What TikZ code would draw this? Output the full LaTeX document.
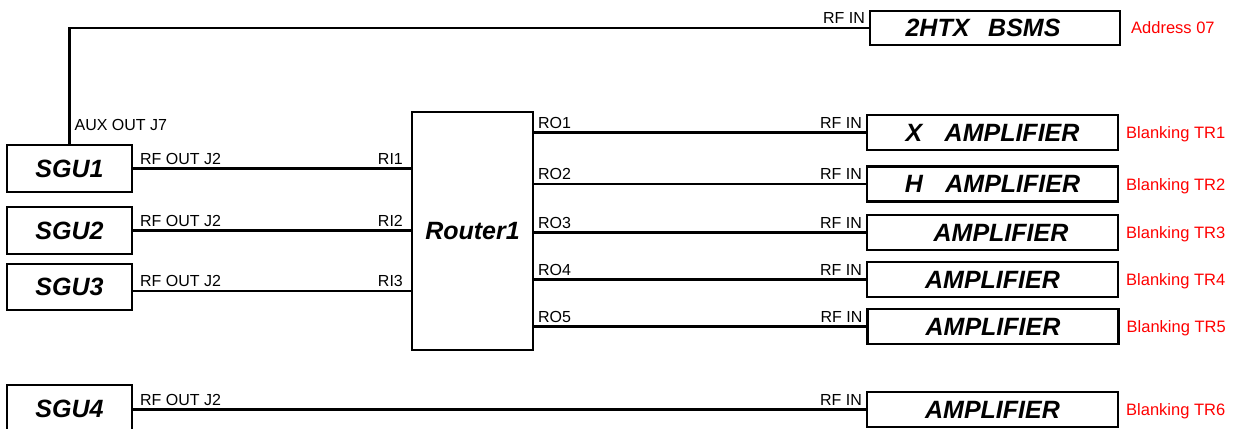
\documentclass[tikz,border=0pt]{standalone}
\usepackage{fontspec}
\setmainfont{Liberation Sans}
\tikzstyle{every picture}=[line join=miter]
\tikzstyle{unit}=[draw, line width=2.8pt, outer sep=0pt, inner sep=0pt, font=\fontsize{25}{28}\selectfont\bfseries\itshape]
\tikzstyle{sgu}=[unit, minimum width=125pt, minimum height=47pt]
\tikzstyle{amp}=[unit, minimum width=251pt, minimum height=35pt]
\tikzstyle{port}=[font=\fontsize{16}{18}\selectfont, inner xsep=4pt, inner ysep=3pt]
\tikzstyle{note}=[font=\fontsize{16.5}{18}\selectfont, text=red, inner sep=0pt, text height=12pt, text depth=0pt, anchor=west]
\tikzstyle{wire}=[line width=2.3pt]

\begin{document}
\begin{tikzpicture}[x=1pt,y=-1pt]
    \clip (0,0) rectangle (1238,428);
    \node[sgu] (sgu1) at (69.5,168.5) {SGU1};
    \node[sgu] (sgu2) at (69.5,230.5) {SGU2};
    \node[sgu, minimum height=46pt] (sgu3) at (69.5,287) {SGU3};
    \node[sgu] (sgu4) at (69.5,408.5) {SGU4};
    \node[unit, minimum width=121pt, minimum height=238pt] (router1) at (472.5,231) {Router1};
    \node[unit, minimum width=250pt, minimum height=34pt] (bsms) at (995,28) {2HTX\hspace{0.75em}BSMS\hspace*{24pt}};
    \node[amp] (amp1) at (992.5,132.5) {X\hspace{0.9em}AMPLIFIER};
    \node[amp] (amp2) at (992.5,184) {H\hspace{0.9em}AMPLIFIER};
    \node[amp] (amp3) at (992.5,232.5) {\hspace*{17pt}AMPLIFIER};
    \node[amp] (amp4) at (992.5,279.5) {AMPLIFIER};
    \node[amp] (amp5) at (993,326.5) {AMPLIFIER};
    \node[amp] (amp6) at (992.5,409.5) {AMPLIFIER};
    \node[note] (addr) at ([xshift=11pt]bsms.east) {Address 07};
    \node[note] (blank1) at ([xshift=8pt]amp1.east) {Blanking TR1};
    \node[note] (blank2) at ([xshift=8pt]amp2.east) {Blanking TR2};
    \node[note] (blank3) at ([xshift=8pt]amp3.east) {Blanking TR3};
    \node[note] (blank4) at ([xshift=8pt]amp4.east) {Blanking TR4};
    \node[note] (blank5) at ([xshift=8pt]amp5.east) {Blanking TR5};
    \node[note] (blank6) at ([xshift=8pt]amp6.east) {Blanking TR6};
    \draw[wire] (bsms.west) -| node[port, anchor=south east, pos=0] (in0) {RF IN}
        node[port, anchor=south west, pos=1, yshift=10pt] (aux) {AUX OUT J7} (sgu1.north);
    \draw[wire] (sgu1.east) -- node[port, anchor=south west, pos=0, xshift=3pt] (out1) {RF OUT J2}
        node[port, anchor=south east, pos=1, xshift=-4pt] (ri1) {RI1} (sgu1.east -| router1.west);
    \draw[wire] (sgu2.east) -- node[port, anchor=south west, pos=0, xshift=3pt] (out2) {RF OUT J2}
        node[port, anchor=south east, pos=1, xshift=-4pt] (ri2) {RI2} (sgu2.east -| router1.west);
    \draw[wire] ([yshift=-4pt]sgu3.east) -- node[port, anchor=south west, pos=0, xshift=3pt] (out3) {RF OUT J2}
        node[port, anchor=south east, pos=1, xshift=-4pt] (ri3) {RI3} ([yshift=-4pt]sgu3.east -| router1.west);
    \draw[wire] (router1.east |- amp1.west) -- node[port, anchor=south west, pos=0] (ro1) {RO1}
        node[port, anchor=south east, pos=1] (in1) {RF IN} (amp1.west);
    \draw[wire] (router1.east |- amp2.west) -- node[port, anchor=south west, pos=0] (ro2) {RO2}
        node[port, anchor=south east, pos=1] (in2) {RF IN} (amp2.west);
    \draw[wire] (router1.east |- amp3.west) -- node[port, anchor=south west, pos=0] (ro3) {RO3}
        node[port, anchor=south east, pos=1] (in3) {RF IN} (amp3.west);
    \draw[wire] (router1.east |- amp4.west) -- node[port, anchor=south west, pos=0] (ro4) {RO4}
        node[port, anchor=south east, pos=1] (in4) {RF IN} (amp4.west);
    \draw[wire] (router1.east |- amp5.west) -- node[port, anchor=south west, pos=0] (ro5) {RO5}
        node[port, anchor=south east, pos=1] (in5) {RF IN} (amp5.west);
    \draw[wire] (sgu4.east |- amp6.west) -- node[port, anchor=south west, pos=0, xshift=3pt] (out4) {RF OUT J2}
        node[port, anchor=south east, pos=1] (in6) {RF IN} (amp6.west);
  \end{tikzpicture}
\end{document}
